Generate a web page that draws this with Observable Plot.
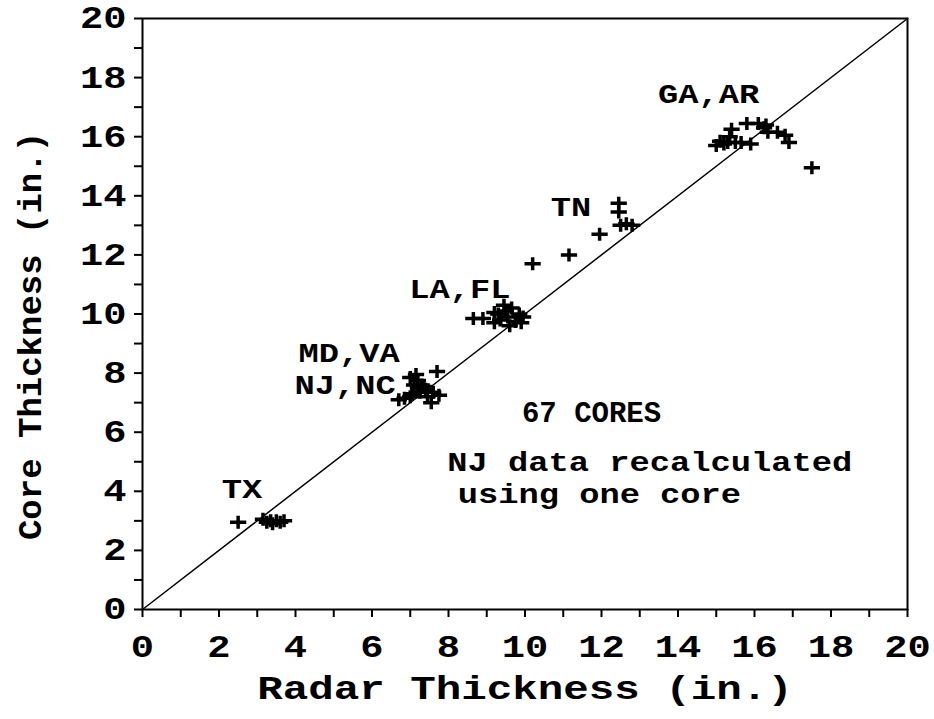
<!DOCTYPE html>
<html>
<head>
<meta charset="utf-8">
<script src="https://cdn.jsdelivr.net/npm/d3@7"></script>
<script src="https://cdn.jsdelivr.net/npm/@observablehq/plot@0.6"></script>
<style>
  html, body { margin: 0; padding: 0; background: #fff; }
</style>
</head>
<body>
<div id="chart"></div>
<script>
// Radar vs core thickness (in.)
const radar = [
  // TX
  2.5, 3.15, 3.25, 3.35, 3.4, 3.5, 3.6, 3.7,
  // MD, VA, NJ, NC
  6.7, 6.85, 7.0, 7.05, 7.0, 7.15, 7.2, 7.25, 7.3, 7.4, 7.45, 7.55, 7.6, 7.7, 7.75, 7.1, 7.2, 7.35,
  // LA, FL
  8.65, 8.9, 9.2, 9.45, 9.65, 9.85, 9.9, 9.6, 9.35, 9.2, 9.55, 9.95, 9.3, 9.5, 9.75,
  // TN
  10.2, 11.15, 11.95, 12.45, 12.45, 12.5, 12.8, 12.65,
  // GA, AR
  15.0, 15.1, 15.2, 15.3, 15.35, 15.4, 15.5, 15.65, 15.9, 15.8, 16.1, 16.25, 16.35, 16.3, 16.6, 16.8, 16.9, 17.5
];
const core = [
  2.95, 3.05, 2.95, 3.0, 2.9, 3.0, 2.95, 3.0,
  7.1, 7.15, 7.2, 7.3, 7.85, 7.95, 7.5, 7.35, 7.6, 7.45, 7.2, 7.0, 7.35, 8.05, 7.25, 7.6, 7.75, 7.55,
  9.85, 9.85, 10.05, 10.3, 10.2, 10.0, 9.7, 9.6, 9.8, 9.7, 9.9, 9.9, 10.0, 10.1, 9.75,
  11.7, 12.0, 12.7, 13.75, 13.45, 13.0, 13.0, 13.05,
  15.7, 15.85, 15.75, 15.8, 16.0, 16.25, 15.8, 15.8, 15.75, 16.45, 16.45, 16.3, 16.15, 16.4, 16.15, 16.05, 15.8, 14.95
];

// Group labels
const groupLabels = ["GA,AR", "TN", "LA,FL", "MD,VA", "NJ,NC", "TX"];
const groupLabelX = [14.8, 11.2, 8.3, 5.4, 5.3, 2.6];
const groupLabelY = [17.43, 13.62, 10.85, 8.66, 7.58, 4.05];

// Count label and note lines
const countLabel = ["67 CORES"];
const countX = [11.74];
const countY = [6.67];
const noteLines = ["NJ data recalculated", "using one core"];
const noteX = [7.97, 8.24];
const noteY = [4.97, 3.89];

// Axis ticks
const xMinorTicks = d3.range(0, 21, 1);
const yMinorTicks = d3.range(0, 21, 1);
const xTickLabels = [0, 2, 4, 6, 8, 10, 12, 14, 16, 18, 20];
const yTickLabels = [0, 2, 4, 6, 8, 10, 12, 14, 16, 18, 20];
const diagonal = [0, 20];

const xTitle = "Radar Thickness (in.)";
const yTitle = "Core Thickness (in.)";

const points = radar.map((r, i) => ({radar: r, core: core[i]}));
const labels = groupLabels.map((t, i) => ({t, x: groupLabelX[i], y: groupLabelY[i]}));
const counts = countLabel.map((t, i) => ({t, x: countX[i], y: countY[i]}));
const notes = noteLines.map((t, i) => ({t, x: noteX[i], y: noteY[i]}));
const diag = diagonal.map(v => ({x: v, y: v}));

const plusSymbol = {
  draw(context, size) {
    const r = Math.sqrt(size / Math.PI);
    context.moveTo(-r * 1.25, 0);
    context.lineTo(r * 1.25, 0);
    context.moveTo(0, -r);
    context.lineTo(0, r);
  }
};

const FONT = "'Liberation Mono', 'DejaVu Sans Mono', monospace";

const chart = Plot.plot({
  width: 934,
  height: 719,
  marginLeft: 142,
  marginRight: 27,
  marginTop: 18,
  marginBottom: 110,
  style: {fontFamily: FONT, fontWeight: "bold", background: "#fff", color: "#000"},
  x: {domain: [0, 20]},
  y: {domain: [0, 20]},
  marks: [
    Plot.axisX({
      ticks: xMinorTicks, tickSize: 8, tickPadding: 17, strokeWidth: 2,
      tickFormat: d => xTickLabels.includes(d) ? String(d) : "",
      fontSize: 31, fontWeight: "bold", label: null
    }),
    Plot.axisY({
      ticks: yMinorTicks, tickSize: 8, tickPadding: 8, strokeWidth: 2,
      tickFormat: d => yTickLabels.includes(d) ? String(d) : "",
      fontSize: 31, fontWeight: "bold", label: null
    }),
    Plot.frame({stroke: "#000", strokeWidth: 2}),
    Plot.line(diag, {x: "x", y: "y", stroke: "#000", strokeWidth: 1.5}),
    Plot.dot(points, {x: "radar", y: "core", symbol: plusSymbol, r: 6.5, stroke: "#000", strokeWidth: 3.5, fill: "none"}),
    Plot.text(labels, {x: "x", y: "y", text: "t", fontSize: 27, fontWeight: "bold", fill: "#000", textAnchor: "middle", lineAnchor: "middle"}),
    Plot.text(counts, {x: "x", y: "y", text: "t", fontSize: 29, fontWeight: "bold", fill: "#000", textAnchor: "middle", lineAnchor: "middle"}),
    Plot.text(notes, {x: "x", y: "y", text: "t", fontSize: 27, fontWeight: "bold", fill: "#000", textAnchor: "start", lineAnchor: "middle"}),
    Plot.text([xTitle], {frameAnchor: "bottom", dy: 79, text: d => d, fontSize: 34, fontWeight: "bold", fill: "#000", textAnchor: "middle", lineAnchor: "middle"}),
    Plot.text([yTitle], {frameAnchor: "left", dx: -112, dy: 22, rotate: -90, text: d => d, fontSize: 34, fontWeight: "bold", fill: "#000", textAnchor: "middle", lineAnchor: "middle"})
  ]
});

// Horizontal stretch of horizontal glyphs, as in the scanned original
// (the "67 CORES" line is set at its natural width there)
d3.select(chart).selectAll("text").each(function() {
  const el = d3.select(this);
  const t = el.attr("transform");
  if (!t || /rotate/.test(t)) return;
  if (countLabel.includes(el.text())) return;
  el.attr("transform", `${t} scale(1.25,1)`);
});

document.getElementById("chart").appendChild(chart);
</script>
</body>
</html>
